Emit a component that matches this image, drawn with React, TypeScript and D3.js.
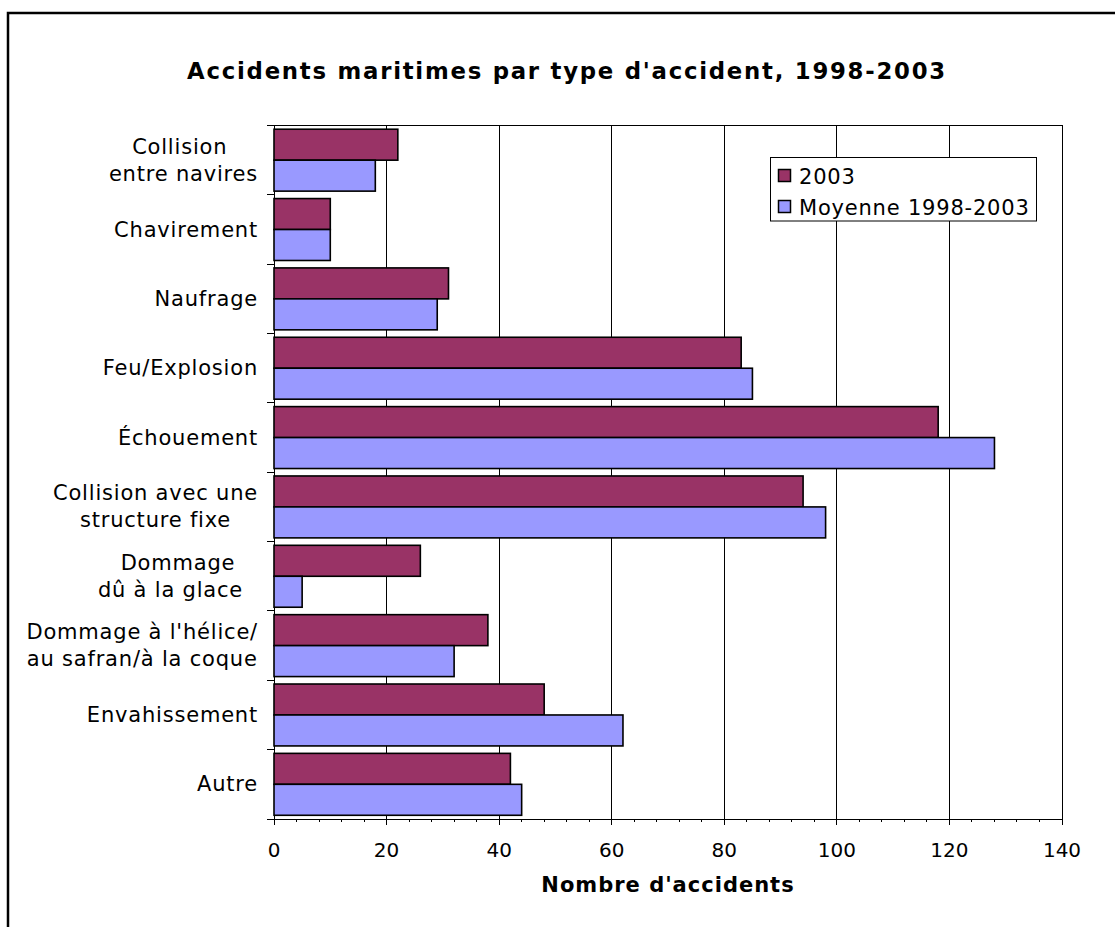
import React, { useEffect, useRef } from "react";
import * as d3 from "d3";

const categories: string[][] = [
  ["Collision\u00a0", "entre navires"],
  ["Chavirement"],
  ["Naufrage"],
  ["Feu/Explosion"],
  ["Échouement"],
  ["Collision avec une", "structure fixe"],
  ["Dommage", "dû à la glace\u00a0\u00a0"],
  ["Dommage à l'hélice/", "au safran/à la coque"],
  ["Envahissement"],
  ["Autre"],
];
const values2003: number[] = [22, 10, 31, 83, 118, 94, 26, 38, 48, 42];
const valuesMoyenne: number[] = [18, 10, 29, 85, 128, 98, 5, 32, 62, 44];
const seriesNames: string[] = ["2003", "Moyenne 1998-2003"];
const seriesColors: string[] = ["#993366", "#9999FF"];
const xTicks: number[] = [0, 20, 40, 60, 80, 100, 120, 140];
const title = "Accidents maritimes par type d'accident, 1998-2003";
const xTitle = "Nombre d'accidents";

const W = 1115;
const H = 927;
const FONT = "'DejaVu Sans', Verdana, sans-serif";

export default function App() {
  const ref = useRef<SVGSVGElement>(null);

  useEffect(() => {
    const svg = d3.select(ref.current);
    svg.selectAll("*").remove();

    const left = 274, right = 1062, top = 125.5, bottom = 819;
    const x = d3.scaleLinear().domain([0, 140]).range([left, right]);
    const y = d3.scaleBand<number>().domain(d3.range(categories.length)).range([top, bottom]).paddingInner(0).paddingOuter(0);
    const inner = d3.scaleBand<number>().domain([0, 1]).range([0, y.bandwidth()]).paddingOuter(0.12).paddingInner(0);

    // outer frame
    svg.append("rect").attr("x", 8).attr("y", 13).attr("width", W + 20).attr("height", H + 20)
      .attr("fill", "white").attr("stroke", "black").attr("stroke-width", 2.5);

    // title
    svg.append("text").attr("x", 567).attr("y", 79).attr("text-anchor", "middle")
      .attr("font-family", FONT).attr("font-weight", "bold").attr("font-size", 22.8)
      .attr("letter-spacing", 1.75).text(title);

    // gridlines
    svg.append("g").selectAll("line").data(xTicks.filter(t => t > 0 && t < 140)).join("line")
      .attr("x1", d => x(d)).attr("x2", d => x(d)).attr("y1", top).attr("y2", bottom)
      .attr("stroke", "black").attr("stroke-width", 1).attr("shape-rendering", "crispEdges");

    // plot frame
    svg.append("rect").attr("x", left).attr("y", top).attr("width", right - left).attr("height", bottom - top)
      .attr("fill", "none").attr("stroke", "black").attr("stroke-width", 1).attr("shape-rendering", "crispEdges");

    // bars
    const series = [values2003, valuesMoyenne];
    series.forEach((vals, si) => {
      svg.append("g").selectAll("rect").data(vals).join("rect")
        .attr("x", x(0)).attr("y", (d, i) => (y(i) as number) + (inner(si) as number))
        .attr("width", d => x(d) - x(0)).attr("height", inner.bandwidth())
        .attr("fill", seriesColors[si]).attr("stroke", "black").attr("stroke-width", 1.6);
    });

    // x axis
    const minor = d3.range(0, 141, 4);
    svg.append("g").selectAll("line").data(minor).join("line")
      .attr("x1", d => x(d)).attr("x2", d => x(d)).attr("y1", bottom).attr("y2", bottom + 3)
      .attr("stroke", "black").attr("shape-rendering", "crispEdges");
    svg.append("g").selectAll("line").data(xTicks).join("line")
      .attr("x1", d => x(d)).attr("x2", d => x(d)).attr("y1", bottom).attr("y2", bottom + 6)
      .attr("stroke", "black").attr("shape-rendering", "crispEdges");
    svg.append("g").selectAll("text").data(xTicks).join("text")
      .attr("x", d => x(d)).attr("y", 857).attr("text-anchor", "middle")
      .attr("font-family", FONT).attr("font-size", 20).text(d => String(d));
    svg.append("text").attr("x", 668).attr("y", 892).attr("text-anchor", "middle")
      .attr("font-family", FONT).attr("font-weight", "bold").attr("font-size", 21)
      .attr("letter-spacing", 1).text(xTitle);

    // y axis ticks
    svg.append("g").selectAll("line").data(d3.range(categories.length + 1)).join("line")
      .attr("x1", left - 7).attr("x2", left)
      .attr("y1", i => top + i * y.step()).attr("y2", i => top + i * y.step())
      .attr("stroke", "black").attr("shape-rendering", "crispEdges");

    // category labels
    const labelRight = 258;
    const lineH = 27;
    categories.forEach((lines, i) => {
      const cy = (y(i) as number) + y.bandwidth() / 2;
      const t = svg.append("text").attr("font-family", FONT).attr("font-size", 21)
        .attr("text-anchor", "middle").attr("letter-spacing", 0.8);
      const spans = lines.map((ln, k) =>
        t.append("tspan").attr("y", cy + (k - (lines.length - 1) / 2) * lineH + 7).text(ln)
      );
      const widths = spans.map(s => (s.node() as SVGTSpanElement).getComputedTextLength());
      const maxW = Math.max(...widths);
      const cx = labelRight - maxW / 2;
      spans.forEach(s => s.attr("x", cx));
    });

    // legend
    const lg = svg.append("g");
    lg.append("rect").attr("x", 770.5).attr("y", 157.5).attr("width", 266).attr("height", 63.5)
      .attr("fill", "white").attr("stroke", "black").attr("stroke-width", 1);
    seriesNames.forEach((name, si) => {
      const yy = 169.5 + si * 31;
      lg.append("rect").attr("x", 778.5).attr("y", yy).attr("width", 12).attr("height", 12)
        .attr("fill", seriesColors[si]).attr("stroke", "black").attr("stroke-width", 1.5);
      lg.append("text").attr("x", 799).attr("y", yy + 14.5).attr("font-family", FONT).attr("font-size", 21)
        .attr("letter-spacing", 0.8).text(name);
    });
  }, []);

  return (
    <svg ref={ref} width={W} height={H} style={{ display: "block", position: "absolute", left: 0, top: 0 }} />
  );
}
